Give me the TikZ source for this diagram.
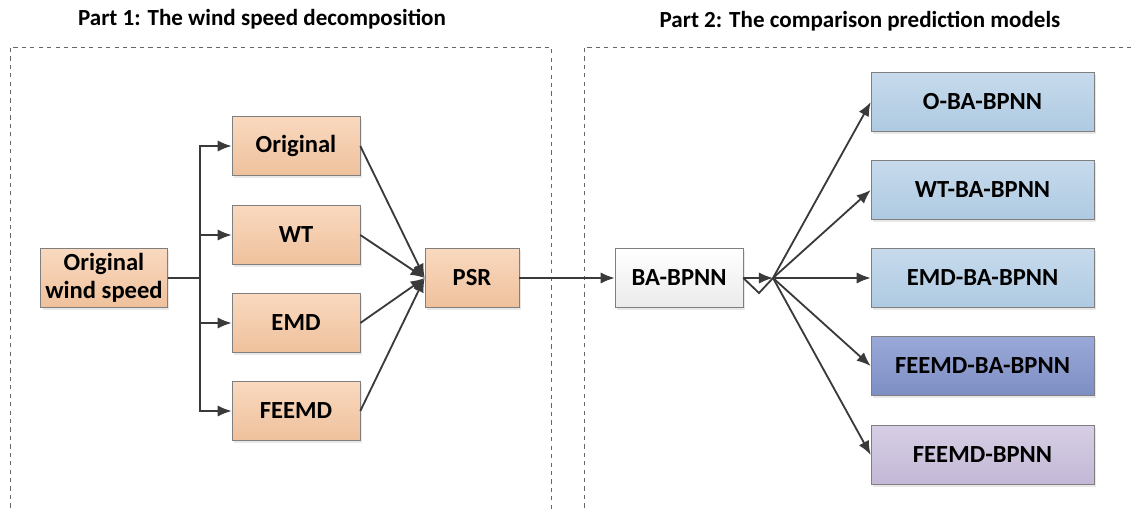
\documentclass[tikz,border=0pt]{standalone}
\usepackage{fontspec}
\setmainfont{Carlito}
\usetikzlibrary{arrows,arrows.meta,positioning,shadows}
\definecolor{linegray}{HTML}{3A3A3A}
\definecolor{boxedge}{HTML}{7F7F7F}
\definecolor{orangetop}{HTML}{F9D9BF}
\definecolor{orangebot}{HTML}{EFC19C}
\definecolor{bluetop}{HTML}{C7DAEC}
\definecolor{bluebot}{HTML}{AECAE2}
\definecolor{darktop}{HTML}{9AA9D8}
\definecolor{darkbot}{HTML}{7D8EC4}
\definecolor{lilactop}{HTML}{D6CEE4}
\definecolor{lilacbot}{HTML}{C3B8D6}
\tikzset{every shadow/.style={fill=black!18,shadow xshift=1.5pt,shadow yshift=-1.5pt}}
\tikzset{
  blk/.style={rectangle,draw=boxedge,thin,drop shadow,align=center,
    font=\fontsize{17.5}{19.5}\selectfont\bfseries,minimum height=1.475cm},
  decomp/.style={blk,top color=orangetop,bottom color=orangebot},
  model/.style={blk,top color=bluetop,bottom color=bluebot,minimum width=5.575cm},
  part/.style={draw=black!60,dashed,thin},
  conn/.style={-{Latex[length=10pt,width=8pt]},draw=linegray,line width=1.3pt}
}

\begin{document}
\begin{tikzpicture}
\useasboundingbox (0,0) rectangle (28.3,-12.725);
% \draw[help lines] (0,0) grid (28,-12);
\draw[part] (0.25,-12.9) -- (0.25,-1.175) -- (13.775,-1.175) -- (13.775,-12.9);
\draw[part] (14.6,-12.9) -- (14.6,-1.175) -- (28.5,-1.175);
\node (t1) at (6.55,-0.47) {\fontsize{16.4}{18}\selectfont\bfseries Part 1: The wind speed decomposition};
\node (t2) at (21.5,-0.52) {\fontsize{16.4}{18}\selectfont\bfseries Part 2: The comparison prediction models};
%
\node (win) [decomp,minimum width=3.15cm] at (2.6,-6.95) {Original\\wind speed};
\node (orig) [decomp,minimum width=3.2cm] at (7.4,-3.65) {Original};
\node (wt) [decomp,minimum width=3.2cm] at (7.4,-5.875) {WT};
\node (emd) [decomp,minimum width=3.2cm] at (7.4,-8.075) {EMD};
\node (feemd) [decomp,minimum width=3.2cm] at (7.4,-10.275) {FEEMD};
\node (psr) [decomp,minimum width=2.35cm] at (11.8,-6.95) {PSR};
\node (ba) [blk,top color=white,bottom color=black!8,minimum width=3.2cm] at (16.975,-6.95) {BA-BPNN};
%
\node (m1) [model] at (24.5625,-2.55) {O-BA-BPNN};
\node (m2) [model] at (24.5625,-4.75) {WT-BA-BPNN};
\node (m3) [model] at (24.5625,-6.95) {EMD-BA-BPNN};
\node (m4) [model,top color=darktop,bottom color=darkbot] at (24.5625,-9.15) {FEEMD-BA-BPNN};
\node (m5) [model,top color=lilactop,bottom color=lilacbot] at (24.5625,-11.375) {FEEMD-BPNN};
%
\coordinate (fork) at (5.0,-6.95);
\coordinate (hub) at (19.325,-6.95);
\coordinate (kink) at (18.975,-7.325);
%
\draw[draw=linegray,line width=1.3pt] (win) -- (fork);
\foreach \n in {orig,wt,emd,feemd}
  \draw[conn] (fork) |- (\n);
\foreach \n in {orig,wt,emd,feemd}
  \draw[conn] (\n.east) -- (psr.west);
\draw[conn] (psr) -- (ba);
\draw[conn] (ba) -- (hub);
\draw[draw=linegray,line width=1.3pt] (ba.east) -- (kink) -- (hub);
\foreach \n in {m1,m2,m3,m4,m5}
  \draw[conn] (hub) -- (\n.west);
\end{tikzpicture}
\end{document}
